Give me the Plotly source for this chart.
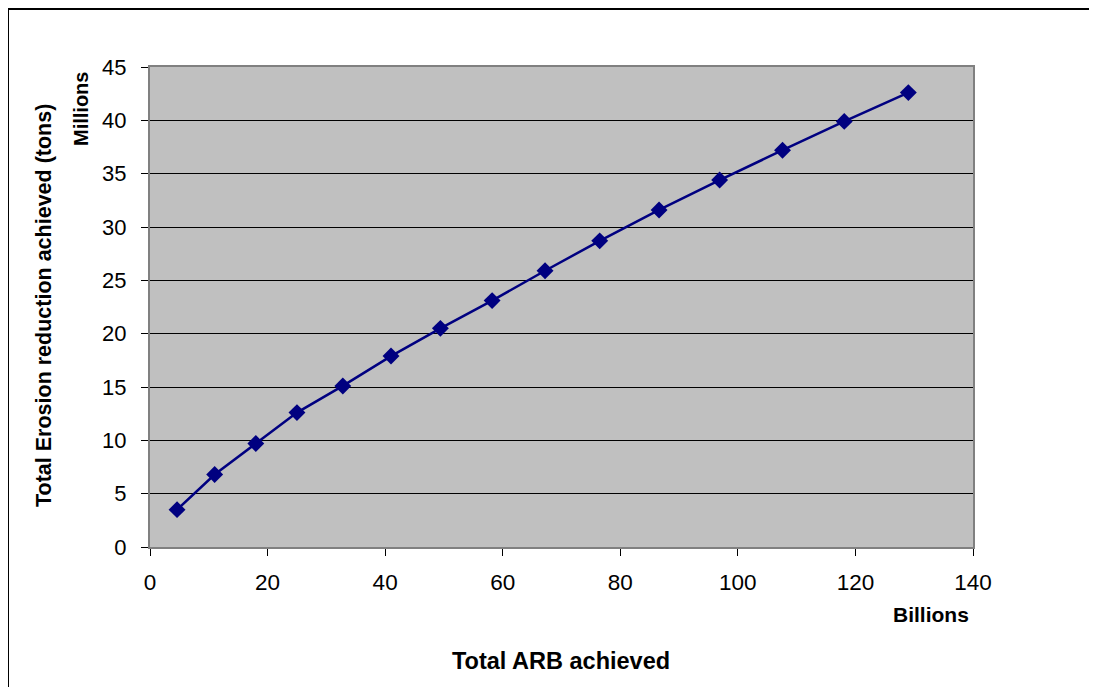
import plotly.graph_objects as go

# Data (x in billions, y in millions)
arb_billions = [4.6, 11.0, 18.0, 25.0, 32.8, 41.0, 49.4, 58.2, 67.2, 76.5, 86.6, 96.9, 107.6, 118.1, 129.0]
erosion_millions = [3.5, 6.8, 9.7, 12.6, 15.1, 17.9, 20.5, 23.1, 25.9, 28.7, 31.6, 34.4, 37.2, 39.9, 42.6]

x_title = "Total ARB achieved"
y_title = "Total Erosion reduction achieved (tons)"
x_unit = "Billions"
y_unit = "Millions"

W, H = 1097, 687
OFF = 8  # page body margin offset
L, T = 150 - OFF, 67 - OFF
R, B = W - (973 - OFF), H - (547 - OFF)
pw, ph = W - L - R, H - T - B

def px(xp):
    return (xp - OFF - L) / pw

def py(yp):
    return (H - B - (yp - OFF)) / ph

FONT = "Liberation Sans, Arial, sans-serif"

fig = go.Figure()
fig.add_trace(go.Scatter(
    x=arb_billions, y=erosion_millions, mode="lines+markers",
    line=dict(color="#000080", width=2.5),
    marker=dict(symbol="diamond", size=13, color="#000080"),
    showlegend=False,
))

fig.update_layout(
    width=W, height=H,
    margin=dict(l=L, r=R, t=T, b=B),
    paper_bgcolor="white", plot_bgcolor="#C0C0C0",
    font=dict(family=FONT, color="black"),
    xaxis=dict(range=[0, 140], dtick=20, tick0=0, showgrid=False, zeroline=False,
               showline=True, linecolor="#808080", linewidth=2, mirror=True,
               ticks="outside", ticklen=7, tickcolor="black", tickwidth=1,
               tickfont=dict(size=22.5, family=FONT), ticklabelstandoff=7),
    yaxis=dict(range=[0, 45], dtick=5, tick0=0, showgrid=True, gridcolor="black", gridwidth=1,
               zeroline=False, showline=True, linecolor="#808080", linewidth=2, mirror=True,
               ticks="outside", ticklen=7, tickcolor="black", tickwidth=1,
               tickfont=dict(size=22, family=FONT), ticklabelstandoff=10),
    shapes=[dict(type="rect", xref="paper", yref="paper",
                 x0=px(8), x1=px(1120), y0=py(9), y1=py(710),
                 line=dict(color="black", width=2), fillcolor="rgba(0,0,0,0)", layer="below")],
    annotations=[
        dict(text="<b>%s</b>" % x_title, xref="paper", yref="paper", x=px(561), y=py(661),
             showarrow=False, font=dict(size=23.5, family=FONT), xanchor="center", yanchor="middle"),
        dict(text="<b>%s</b>" % x_unit, xref="paper", yref="paper", x=px(931), y=py(614),
             showarrow=False, font=dict(size=21, family=FONT), xanchor="center", yanchor="middle"),
        dict(text="<b>%s</b>" % y_title, xref="paper", yref="paper", x=px(44), y=py(306),
             showarrow=False, textangle=-90, font=dict(size=21.5, family=FONT),
             xanchor="center", yanchor="middle"),
        dict(text="<b>%s</b>" % y_unit, xref="paper", yref="paper", x=px(81), y=py(109),
             showarrow=False, textangle=-90, font=dict(size=20, family=FONT),
             xanchor="center", yanchor="middle"),
    ],
)

fig.write_html("out.html")
